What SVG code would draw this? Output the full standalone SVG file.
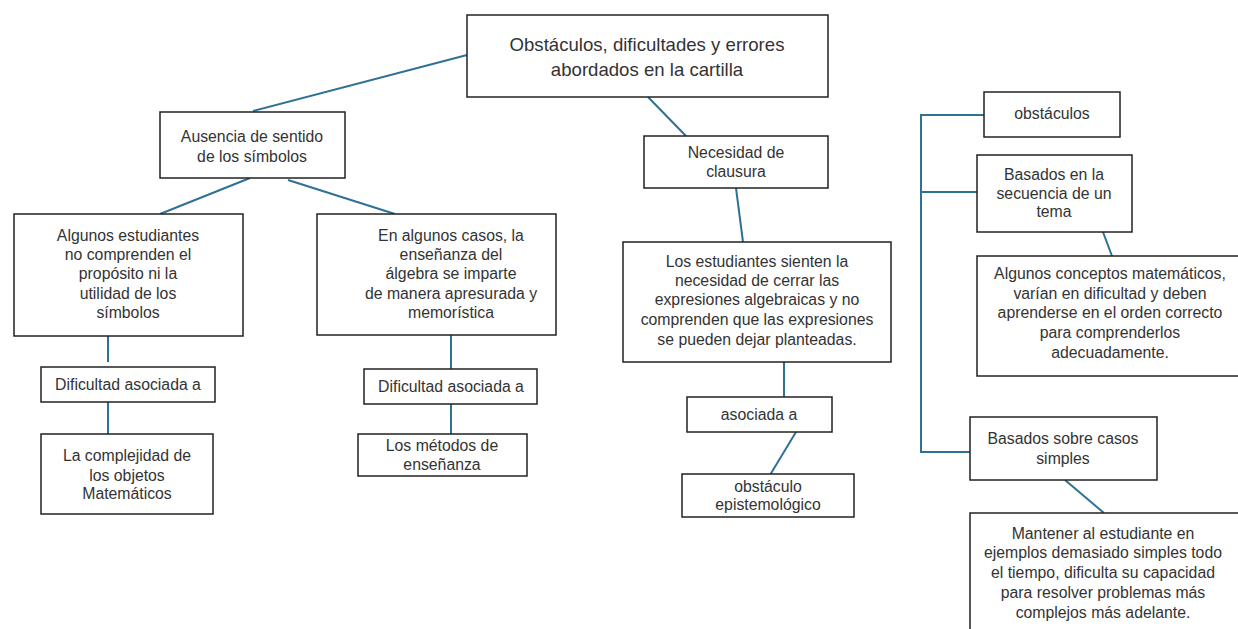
<svg xmlns="http://www.w3.org/2000/svg" width="1238" height="629" viewBox="0 0 1238 629">
<style>
.box{fill:#fff;stroke:#222;stroke-width:1.5}
.t{font-family:"Liberation Sans",Arial,sans-serif;font-size:15.8px;fill:#333;text-anchor:middle}
.big{font-size:18.6px}
.c{stroke:#2f7194;stroke-width:2;fill:none}
</style>
<rect width="1238" height="629" fill="#fff"/>
<g id="connectors">
<line class="c" x1="467" y1="55" x2="253" y2="111"/>
<line class="c" x1="648" y1="97" x2="686" y2="136"/>
<line class="c" x1="250" y1="178" x2="160" y2="214"/>
<line class="c" x1="288" y1="180" x2="395" y2="214"/>
<line class="c" x1="108" y1="336" x2="108" y2="362"/>
<line class="c" x1="108" y1="402" x2="108" y2="434"/>
<line class="c" x1="451" y1="335" x2="451" y2="369"/>
<line class="c" x1="451" y1="404" x2="451" y2="434"/>
<line class="c" x1="736" y1="188" x2="743" y2="242"/>
<line class="c" x1="784" y1="362" x2="784" y2="397"/>
<line class="c" x1="796" y1="432" x2="770" y2="475"/>
<polyline class="c" points="984,115 921,115 921,452 970,452"/>
<line class="c" x1="921" y1="192" x2="977" y2="192"/>
<line class="c" x1="1103" y1="232" x2="1112" y2="256"/>
<line class="c" x1="1065" y1="480" x2="1104" y2="513"/>
</g>
<g id="root">
<rect class="box" x="467" y="15" width="361" height="82"/>
<text class="t big" x="647" y="51">Obstáculos, dificultades y errores</text>
<text class="t big" x="647" y="76">abordados en la cartilla</text>
</g>
<g id="ausencia">
<rect class="box" x="160" y="112" width="185" height="66"/>
<text class="t" x="252" y="142">Ausencia de sentido</text>
<text class="t" x="252" y="162">de los símbolos</text>
</g>
<g id="algunos">
<rect class="box" x="14" y="214" width="229" height="122"/>
<text class="t" x="128" y="241">Algunos estudiantes</text>
<text class="t" x="128" y="260">no comprenden el</text>
<text class="t" x="128" y="279">propósito ni la</text>
<text class="t" x="128" y="299">utilidad de los</text>
<text class="t" x="128" y="318">símbolos</text>
</g>
<g id="dificultad1">
<rect class="box" x="41" y="367" width="174" height="35"/>
<text class="t" x="128" y="390">Dificultad asociada a</text>
</g>
<g id="complejidad">
<rect class="box" x="41" y="434" width="172" height="80"/>
<text class="t" x="127" y="461">La complejidad de</text>
<text class="t" x="127" y="481">los objetos</text>
<text class="t" x="127" y="499">Matemáticos</text>
</g>
<g id="ensenanza">
<rect class="box" x="317" y="214" width="239" height="121"/>
<text class="t" x="451" y="241">En algunos casos, la</text>
<text class="t" x="451" y="260">enseñanza del</text>
<text class="t" x="451" y="279">álgebra se imparte</text>
<text class="t" x="451" y="299">de manera apresurada y</text>
<text class="t" x="451" y="318">memorística</text>
</g>
<g id="dificultad2">
<rect class="box" x="364" y="369" width="173" height="35"/>
<text class="t" x="451" y="392">Dificultad asociada a</text>
</g>
<g id="metodos">
<rect class="box" x="358" y="434" width="169" height="42"/>
<text class="t" x="442" y="451">Los métodos de</text>
<text class="t" x="442" y="470">enseñanza</text>
</g>
<g id="necesidad">
<rect class="box" x="644" y="136" width="184" height="52"/>
<text class="t" x="736" y="158">Necesidad de</text>
<text class="t" x="736" y="177">clausura</text>
</g>
<g id="sienten">
<rect class="box" x="623" y="242" width="268" height="120"/>
<text class="t" x="757" y="267">Los estudiantes sienten la</text>
<text class="t" x="757" y="286">necesidad de cerrar las</text>
<text class="t" x="757" y="305">expresiones algebraicas y no</text>
<text class="t" x="757" y="325">comprenden que las expresiones</text>
<text class="t" x="757" y="345">se pueden dejar planteadas.</text>
</g>
<g id="asociada">
<rect class="box" x="687" y="397" width="145" height="35"/>
<text class="t" x="759" y="420">asociada a</text>
</g>
<g id="epistemologico">
<rect class="box" x="682" y="474" width="172" height="43"/>
<text class="t" x="768" y="492">obstáculo</text>
<text class="t" x="768" y="510">epistemológico</text>
</g>
<g id="obstaculos">
<rect class="box" x="984" y="92" width="136" height="45"/>
<text class="t" x="1052" y="119">obstáculos</text>
</g>
<g id="secuencia">
<rect class="box" x="977" y="155" width="155" height="77"/>
<text class="t" x="1054" y="180">Basados en la</text>
<text class="t" x="1054" y="199">secuencia de un</text>
<text class="t" x="1054" y="217">tema</text>
</g>
<g id="conceptos">
<rect class="box" x="977" y="256" width="263" height="120"/>
<text class="t" x="1110" y="279">Algunos conceptos matemáticos,</text>
<text class="t" x="1110" y="299">varían en dificultad y deben</text>
<text class="t" x="1110" y="318">aprenderse en el orden correcto</text>
<text class="t" x="1110" y="338">para comprenderlos</text>
<text class="t" x="1110" y="358">adecuadamente.</text>
</g>
<g id="simples">
<rect class="box" x="970" y="417" width="187" height="63"/>
<text class="t" x="1063" y="444">Basados sobre casos</text>
<text class="t" x="1063" y="464">simples</text>
</g>
<g id="mantener">
<rect class="box" x="970" y="513" width="270" height="120"/>
<text class="t" x="1103" y="539">Mantener al estudiante en</text>
<text class="t" x="1103" y="558">ejemplos demasiado simples todo</text>
<text class="t" x="1103" y="578">el tiempo, dificulta su capacidad</text>
<text class="t" x="1103" y="598">para resolver problemas más</text>
<text class="t" x="1103" y="618">complejos más adelante.</text>
</g>
</svg>
